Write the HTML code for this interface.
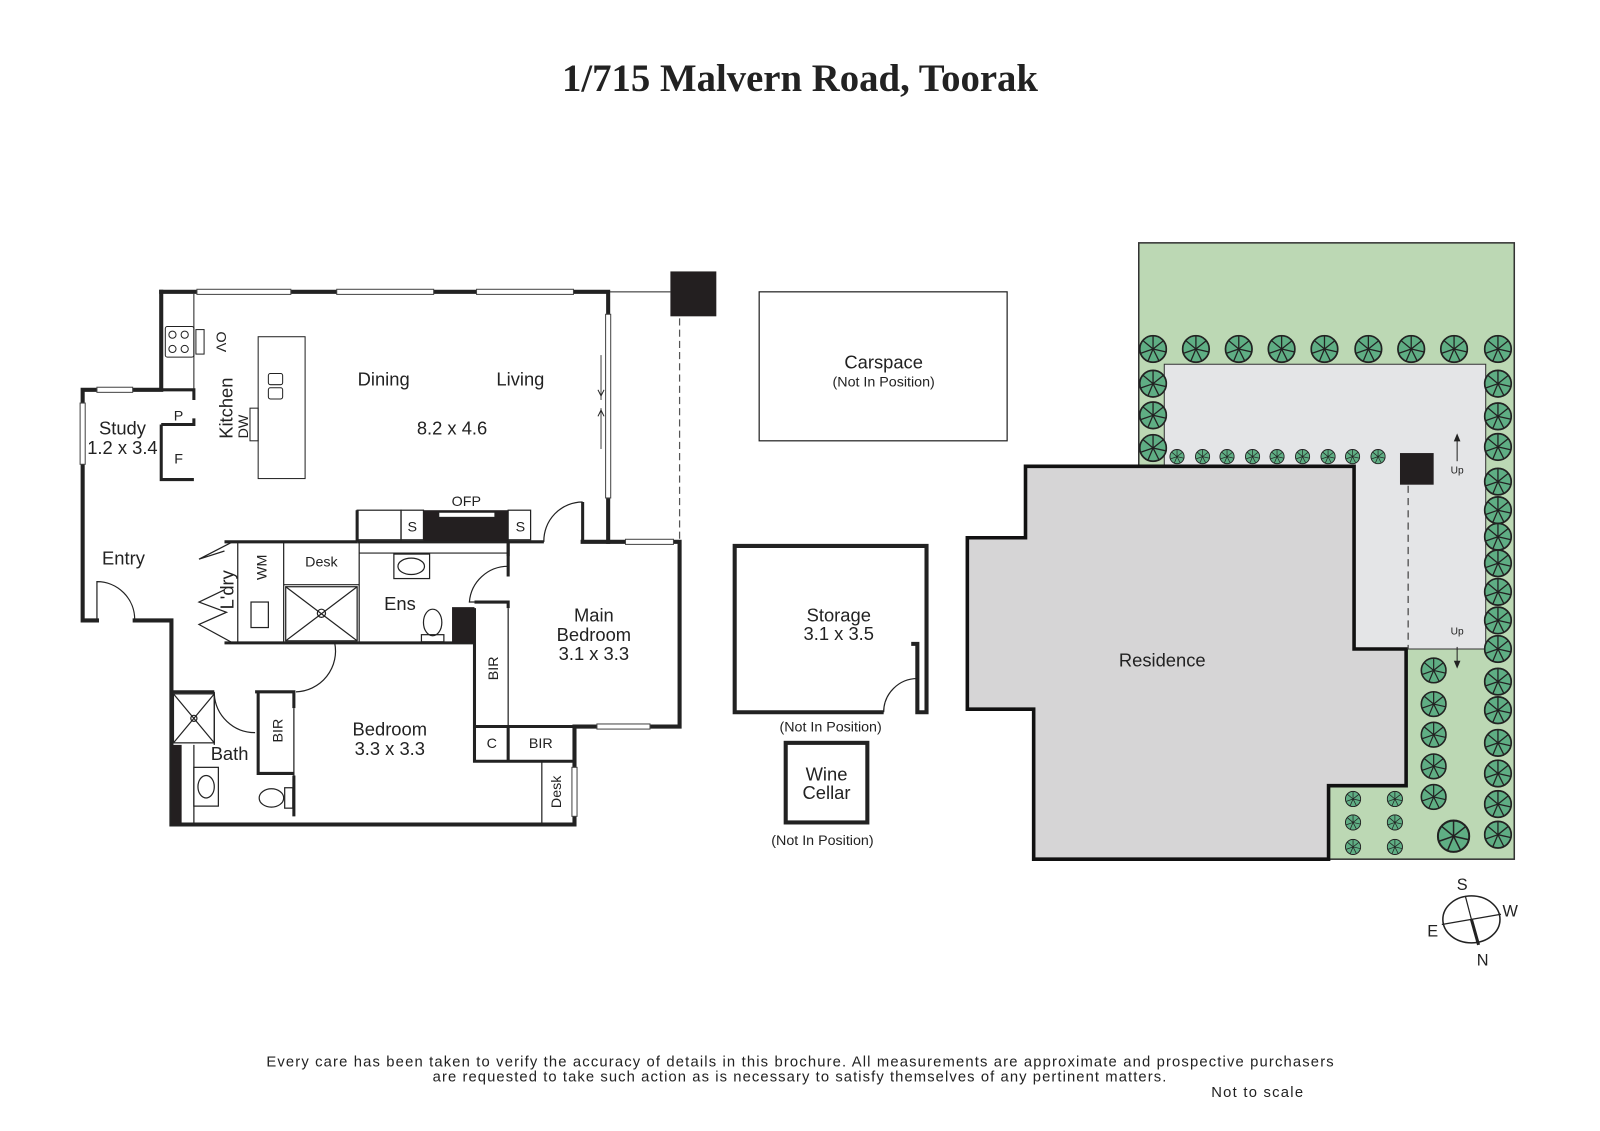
<!DOCTYPE html>
<html><head><meta charset="utf-8"><style>
html,body{margin:0;padding:0;background:#fff}
svg{display:block}
text{font-family:"Liberation Sans",sans-serif;fill:#222}
</style></head><body>
<svg width="1600" height="1131" viewBox="0 0 1600 1131" xmlns="http://www.w3.org/2000/svg">
<defs>
<symbol id="tr" viewBox="-10 -10 20 20">
<circle r="9.3" fill="#5fae84" stroke="#222" stroke-width="1.2"/>
<g stroke="#222" stroke-width="0.9">
<line x1="0" y1="0" x2="0" y2="-9"/><line x1="0" y1="0" x2="7" y2="-5.6"/><line x1="0" y1="0" x2="8.8" y2="2"/>
<line x1="0" y1="0" x2="4" y2="8"/><line x1="0" y1="0" x2="-3.5" y2="8.3"/><line x1="0" y1="0" x2="-8.6" y2="3"/>
<line x1="0" y1="0" x2="-7" y2="-5.8"/></g>
</symbol>
</defs>
<g transform="scale(1.0204)">
<text x="784" y="89" text-anchor="middle" style="font-family:'Liberation Serif',serif;font-weight:bold;font-size:38px">1/715 Malvern Road, Toorak</text>

<g fill="none" stroke="#222" stroke-width="4" stroke-linecap="square">
<path d="M158,286 H596 V531"/>
<path d="M571,531 H666 V712 H563 V808 H168 V608 H132"/>
<path d="M95,608 H81 V382 H158 V286"/>
</g>
<g fill="#fff" stroke="#444" stroke-width="1">
<rect x="193" y="283.5" width="92" height="5"/><rect x="330" y="283.5" width="95" height="5"/><rect x="467" y="283.5" width="95" height="5"/>
<rect x="593.5" y="308" width="5" height="180"/>
<rect x="613" y="528.5" width="47" height="5"/>
<rect x="585" y="709.5" width="52" height="5"/>
<rect x="95" y="379.5" width="35" height="5"/>
<rect x="78.5" y="395" width="5" height="60"/>
<rect x="560.5" y="752" width="5" height="48"/>
</g>
<g stroke="#444" stroke-width="1">
<line x1="589" y1="348" x2="589" y2="392"/><line x1="589" y1="400" x2="589" y2="440"/>
</g>
<path d="M586,382 l3,6 l3,-6 M586,408 l3,-6 l3,6" fill="none" stroke="#222" stroke-width="1"/>
<line x1="596" y1="286" x2="657" y2="286" stroke="#222" stroke-width="1"/>
<rect x="657" y="266" width="45" height="44" fill="#231f20"/>
<line x1="666" y1="312" x2="666" y2="529" stroke="#555" stroke-width="1.2" stroke-dasharray="7,4"/>
<path d="M95,608 V570 A37,37 0 0 1 132,607" fill="none" stroke="#222" stroke-width="1.2"/>
<g fill="none" stroke="#222" stroke-width="1">
<line x1="190" y1="288" x2="190" y2="382"/>
<rect x="162" y="320" width="28" height="30" rx="2"/>
<circle cx="169" cy="328" r="3.5"/><circle cx="181" cy="328" r="3.5"/><circle cx="169" cy="342" r="3.5"/><circle cx="181" cy="342" r="3.5"/>
<rect x="192" y="323" width="8" height="24"/>
<rect x="253" y="330" width="46" height="139"/>
<rect x="263" y="366" width="14" height="11" rx="2"/><rect x="263" y="380" width="14" height="11" rx="2"/>
<rect x="245" y="400" width="8" height="32"/>
</g>
<g fill="none" stroke="#222" stroke-width="3">
<path d="M158,382 H190 V392 M190,410 V416 H158"/>
<path d="M158,416 V470 H190"/>
</g>
<g fill="none" stroke="#222" stroke-width="3">
<path d="M220,531 H350"/>
<path d="M220,630 H465"/>
<path d="M350,500 V531 M350,531 H498 V545"/>
<path d="M498,565 V531 H533 M571,531 V492"/>
<path d="M465,590 H498 V596"/>
<path d="M465,596 V746 H563 M465,712 H563 M498,712 V746"/>
</g>
<g fill="none" stroke="#222" stroke-width="1.2">
<line x1="233" y1="531" x2="233" y2="630"/>
<line x1="278" y1="531" x2="278" y2="630"/>
<rect x="246" y="590" width="17" height="25"/>
<line x1="278" y1="573" x2="352" y2="573"/>
<line x1="352" y1="531" x2="352" y2="630"/>
<rect x="280" y="575" width="70" height="53"/>
<line x1="280" y1="575" x2="350" y2="628"/><line x1="350" y1="575" x2="280" y2="628"/>
<circle cx="315" cy="601" r="4"/>
<path d="M228,531 L195,548 L220,540 M228,630 L195,612 L222,600 L195,590 L220,578"/>
<rect x="350" y="500" width="43" height="29"/><rect x="393" y="500" width="22" height="29"/><rect x="498" y="500" width="22" height="29"/>
<line x1="352" y1="542" x2="498" y2="542"/>
<rect x="386" y="543" width="35" height="24"/><ellipse cx="403" cy="555" rx="13" ry="8"/>
<ellipse cx="424" cy="610" rx="9" ry="13"/><rect x="413" y="622" width="22" height="7"/>
<path d="M533,531 A38,38 0 0 1 571,492"/>
<path d="M498,555 A38,38 0 0 0 460,590 H465"/>
<line x1="498" y1="596" x2="498" y2="712"/>
</g>
<rect x="415" y="500" width="83" height="30" fill="#231f20"/>
<rect x="430" y="502" width="55" height="5" fill="#fff" stroke="#222" stroke-width="1"/>
<rect x="443" y="595" width="22" height="35" fill="#231f20"/>
<g fill="none" stroke="#222" stroke-width="3">
<path d="M210,678 H168"/>
<path d="M250,678 H288 V694 M288,760 V800 M253,678 V758 H288"/>
</g>
<g fill="none" stroke="#222" stroke-width="1.2">
<path d="M328,630 A40,40 0 0 1 290,678"/>
<path d="M210,678 V730"/>
<path d="M210,680 A40,40 0 0 0 250,718"/>
<rect x="170" y="680" width="40" height="48"/>
<line x1="170" y1="680" x2="210" y2="728"/><line x1="210" y1="680" x2="170" y2="728"/>
<circle cx="190" cy="704" r="3"/>
<line x1="190" y1="730" x2="190" y2="808"/>
<rect x="190" y="752" width="24" height="38"/><ellipse cx="202" cy="771" rx="8" ry="11"/>
<ellipse cx="266" cy="782" rx="12" ry="9"/><rect x="279" y="772" width="8" height="20"/>
<line x1="288" y1="694" x2="288" y2="760"/>
<line x1="531" y1="746" x2="531" y2="808"/>
</g>
<rect x="168" y="730" width="10" height="78" fill="#231f20"/>
<g font-size="18">
<text x="376" y="378" text-anchor="middle">Dining</text>
<text x="510" y="378" text-anchor="middle">Living</text>
<text x="443" y="426" text-anchor="middle">8.2 x 4.6</text>
<text x="120" y="426" text-anchor="middle">Study</text>
<text x="120" y="445" text-anchor="middle">1.2 x 3.4</text>
<text x="121" y="553" text-anchor="middle">Entry</text>
<text x="392" y="598" text-anchor="middle">Ens</text>
<text x="582" y="609" text-anchor="middle">Main</text>
<text x="582" y="628" text-anchor="middle">Bedroom</text>
<text x="582" y="647" text-anchor="middle">3.1 x 3.3</text>
<text x="382" y="721" text-anchor="middle">Bedroom</text>
<text x="382" y="740" text-anchor="middle">3.3 x 3.3</text>
<text x="225" y="745" text-anchor="middle">Bath</text>
<text transform="translate(228,400) rotate(-90)" text-anchor="middle">Kitchen</text>
<text transform="translate(229,578) rotate(-90)" text-anchor="middle">L'dry</text>
</g>
<g font-size="14">
<text x="175" y="412" text-anchor="middle">P</text>
<text x="175" y="454" text-anchor="middle">F</text>
<text transform="translate(212,335) rotate(90)" text-anchor="middle">OV</text>
<text transform="translate(243,418) rotate(-90)" text-anchor="middle">DW</text>
<text x="457" y="496" text-anchor="middle">OFP</text>
<text x="404" y="521" text-anchor="middle">S</text>
<text x="510" y="521" text-anchor="middle">S</text>
<text x="315" y="555" text-anchor="middle">Desk</text>
<text transform="translate(261,556) rotate(-90)" text-anchor="middle">WM</text>
<text transform="translate(488,655) rotate(-90)" text-anchor="middle">BIR</text>
<text transform="translate(277,716) rotate(-90)" text-anchor="middle">BIR</text>
<text x="482" y="733" text-anchor="middle">C</text>
<text x="530" y="733" text-anchor="middle">BIR</text>
<text transform="translate(550,776) rotate(-90)" text-anchor="middle">Desk</text>
</g>

<rect x="744" y="286" width="243" height="146" fill="none" stroke="#222" stroke-width="1.2"/>
<text x="866" y="361" text-anchor="middle" font-size="18">Carspace</text>
<text x="866" y="379" text-anchor="middle" font-size="14">(Not In Position)</text>
<path d="M866,698 H720 V535 H908 V698 H899 V631 H893" fill="none" stroke="#222" stroke-width="4"/>
<path d="M866,698 A33,33 0 0 1 899,665" fill="none" stroke="#222" stroke-width="1.2"/>
<text x="822" y="609" text-anchor="middle" font-size="18">Storage</text>
<text x="822" y="627" text-anchor="middle" font-size="18">3.1 x 3.5</text>
<text x="814" y="717" text-anchor="middle" font-size="14">(Not In Position)</text>
<rect x="770" y="728" width="80" height="78" fill="none" stroke="#222" stroke-width="4"/>
<text x="810" y="765" text-anchor="middle" font-size="18">Wine</text>
<text x="810" y="783" text-anchor="middle" font-size="18">Cellar</text>
<text x="806" y="828" text-anchor="middle" font-size="14">(Not In Position)</text>

<rect x="1116" y="238" width="368" height="604" fill="#bcd8b4" stroke="#333" stroke-width="1.5"/>
<path d="M1141,357 H1456 V636 H1327 V457 H1141 Z" fill="#e4e5e7" stroke="#333" stroke-width="1"/>
<path d="M1005,457 H1327 V636 H1378 V770 H1302 V842 H1013 V695 H948 V527 H1005 Z" fill="#d6d5d6" stroke="#111" stroke-width="3.5"/>
<rect x="1372" y="444" width="33" height="31" fill="#231f20"/>
<line x1="1380" y1="476" x2="1380" y2="636" stroke="#444" stroke-width="1.2" stroke-dasharray="7,5"/>
<g stroke="#222" stroke-width="1" fill="#222">
<line x1="1428" y1="428" x2="1428" y2="452"/><path d="M1425.5,432 L1428,426 L1430.5,432Z"/>
<line x1="1428" y1="634" x2="1428" y2="652"/><path d="M1425.5,648 L1428,654 L1430.5,648Z"/>
</g>
<text x="1428" y="464" text-anchor="middle" font-size="10">Up</text>
<text x="1428" y="622" text-anchor="middle" font-size="10">Up</text>
<text x="1139" y="653" text-anchor="middle" font-size="18">Residence</text>
<g>
<use href="#tr" x="1116" y="328" width="28" height="28"/><use href="#tr" x="1158" y="328" width="28" height="28"/>
<use href="#tr" x="1200" y="328" width="28" height="28"/><use href="#tr" x="1242" y="328" width="28" height="28"/>
<use href="#tr" x="1284" y="328" width="28" height="28"/><use href="#tr" x="1327" y="328" width="28" height="28"/>
<use href="#tr" x="1369" y="328" width="28" height="28"/><use href="#tr" x="1411" y="328" width="28" height="28"/>
<use href="#tr" x="1454" y="328" width="28" height="28"/>
<use href="#tr" x="1116" y="362" width="28" height="28"/><use href="#tr" x="1116" y="393" width="28" height="28"/><use href="#tr" x="1116" y="425" width="28" height="28"/>
<use href="#tr" x="1454" y="362" width="28" height="28"/><use href="#tr" x="1454" y="394" width="28" height="28"/>
<use href="#tr" x="1454" y="424" width="28" height="28"/><use href="#tr" x="1454" y="458" width="28" height="28"/>
<use href="#tr" x="1454" y="486" width="28" height="28"/><use href="#tr" x="1454" y="512" width="28" height="28"/>
<use href="#tr" x="1454" y="538" width="28" height="28"/><use href="#tr" x="1454" y="566" width="28" height="28"/>
<use href="#tr" x="1454" y="594" width="28" height="28"/><use href="#tr" x="1454" y="622" width="28" height="28"/>
<use href="#tr" x="1454" y="654" width="28" height="28"/><use href="#tr" x="1454" y="682" width="28" height="28"/>
<use href="#tr" x="1454" y="714" width="28" height="28"/><use href="#tr" x="1454" y="744" width="28" height="28"/>
<use href="#tr" x="1454" y="774" width="28" height="28"/><use href="#tr" x="1454" y="804" width="28" height="28"/>
<use href="#tr" x="1146" y="440" width="15" height="15"/><use href="#tr" x="1171" y="440" width="15" height="15"/>
<use href="#tr" x="1195" y="440" width="15" height="15"/><use href="#tr" x="1220" y="440" width="15" height="15"/>
<use href="#tr" x="1244" y="440" width="15" height="15"/><use href="#tr" x="1269" y="440" width="15" height="15"/>
<use href="#tr" x="1294" y="440" width="15" height="15"/><use href="#tr" x="1318" y="440" width="15" height="15"/>
<use href="#tr" x="1343" y="440" width="15" height="15"/>
<use href="#tr" x="1392" y="644" width="26" height="26"/><use href="#tr" x="1392" y="677" width="26" height="26"/>
<use href="#tr" x="1392" y="707" width="26" height="26"/><use href="#tr" x="1392" y="738" width="26" height="26"/>
<use href="#tr" x="1392" y="768" width="26" height="26"/>
<use href="#tr" x="1318" y="775" width="16" height="16"/><use href="#tr" x="1318" y="798" width="16" height="16"/><use href="#tr" x="1318" y="822" width="16" height="16"/>
<use href="#tr" x="1359" y="775" width="16" height="16"/><use href="#tr" x="1359" y="798" width="16" height="16"/><use href="#tr" x="1359" y="822" width="16" height="16"/>
<use href="#tr" x="1408" y="803" width="33" height="33"/>
</g>
<ellipse cx="1442" cy="901" rx="28" ry="23" fill="none" stroke="#222" stroke-width="1.5"/>
<line x1="1413" y1="906" x2="1471" y2="896" stroke="#222" stroke-width="1.2"/>
<line x1="1436" y1="878" x2="1442" y2="901" stroke="#222" stroke-width="1.2"/>
<line x1="1442" y1="901" x2="1449" y2="926" stroke="#222" stroke-width="3"/>
<g font-size="16"><text x="1433" y="872" text-anchor="middle">S</text><text x="1480" y="898" text-anchor="middle">W</text>
<text x="1404" y="918" text-anchor="middle">E</text><text x="1453" y="946" text-anchor="middle">N</text></g>

<g font-size="14.5">
<text x="261" y="1045" textLength="1046" lengthAdjust="spacing">Every care has been taken to verify the accuracy of details in this brochure.  All measurements are approximate and prospective purchasers</text>
<text x="424" y="1060" textLength="719" lengthAdjust="spacing">are requested to take such action as is necessary to satisfy themselves of any pertinent matters.</text>
<text x="1232" y="1075" text-anchor="middle" textLength="90" lengthAdjust="spacing">Not to scale</text>
</g>
</g>
</svg>
</body></html>
